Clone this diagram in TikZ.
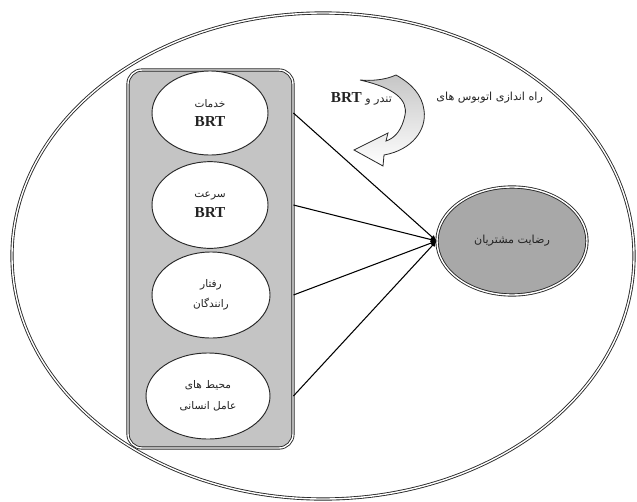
\documentclass[tikz,border=0pt]{standalone}
\usepackage{fontspec}
\usetikzlibrary{shapes.geometric,arrows.meta}
\TeXXeTstate=1
\newfontfamily\fafont[Script=Arabic]{DejaVu Sans}
\newfontfamily\brtfont{Liberation Serif}
\newcommand\brtlabel{{\brtfont\bfseries\fontsize{13}{15}\selectfont BRT}}
\definecolor{panelgray}{RGB}{196,196,196}
\definecolor{satgray}{RGB}{168,168,168}
\definecolor{edgegray}{RGB}{40,40,40}
\definecolor{textgray}{RGB}{35,35,35}

\begin{document}
\begin{tikzpicture}[x=0.03cm,y=-0.03cm,
  dbl/.style={draw=edgegray,double=white,line width=0.75pt,double distance=1.2pt},
  factor/.style={ellipse,draw=edgegray,line width=0.8pt,fill=white,align=center,inner sep=0pt,
    font=\fafont\fontsize{9}{13}\selectfont,text=textgray},
  link/.style={line width=0.9pt,-{Latex[length=5pt,width=4.5pt]}}]
\useasboundingbox (0,0) rectangle (637,502);
\clip (0,0) rectangle (637,502);

\draw[dbl] (323,256) ellipse [x radius=9.33cm, y radius=7.29cm];

\node[dbl,fill=panelgray,rounded corners=0.42cm,minimum width=4.95cm,minimum height=11.34cm] (panel) at (210.5,259) {};

\node[factor,minimum width=3.48cm,minimum height=2.52cm] (srv) at (210,113) {\beginR خدمات\endR\\[4pt]\brtlabel};
\node[factor,minimum width=3.48cm,minimum height=2.6cm] (speed) at (210,205) {\beginR سرعت\endR\\[4pt]\brtlabel};
\node[factor,minimum width=3.54cm,minimum height=2.58cm] (drv) at (211,295) {\beginR رفتار\endR\\[4pt]\beginR رانندگان\endR};
\node[factor,minimum width=3.72cm,minimum height=2.58cm] (env) at (208,396) {\beginR محیط های\endR\\[5pt]\beginR عامل انسانی\endR};

\node[dbl,ellipse,fill=satgray,minimum width=4.5cm,minimum height=3.24cm,
  font=\fafont\fontsize{9.5}{12}\selectfont,text=textgray] (sat) at (512,241) {\beginR رضایت مشتریان\endR};

\coordinate (hub) at (sat.west);
\draw[link] (panel.east |- srv) -- (hub);
\draw[link] (panel.east |- speed) -- (hub);
\draw[link] (panel.east |- drv) -- (hub);
\draw[link] (panel.east |- env) -- (hub);

% curved arrow
\draw[edgegray,line width=0.7pt,top color=gray!45,bottom color=white]
  (360,80) .. controls (395,88) and (408,100) .. (405,115)
  .. controls (402,130) and (395,138) .. (386,141) -- (388,133) -- (354,150)
  -- (383,166) -- (384,155) .. controls (412,150) and (427,130) .. (424,110)
  .. controls (422,95) and (412,84) .. (396,75) .. controls (385,80) and (372,81) .. cycle;

\node[anchor=east,font=\fafont\fontsize{9.5}{12}\selectfont,text=textgray] (launch) at (547,98) {\beginR راه اندازی اتوبوس های\endR};
\node[anchor=east,font=\fafont\fontsize{9.5}{12}\selectfont,text=textgray] (tondar) at (396,99) {\beginR تندر و \beginL\brtlabel\endL\endR};
\end{tikzpicture}
\end{document}
